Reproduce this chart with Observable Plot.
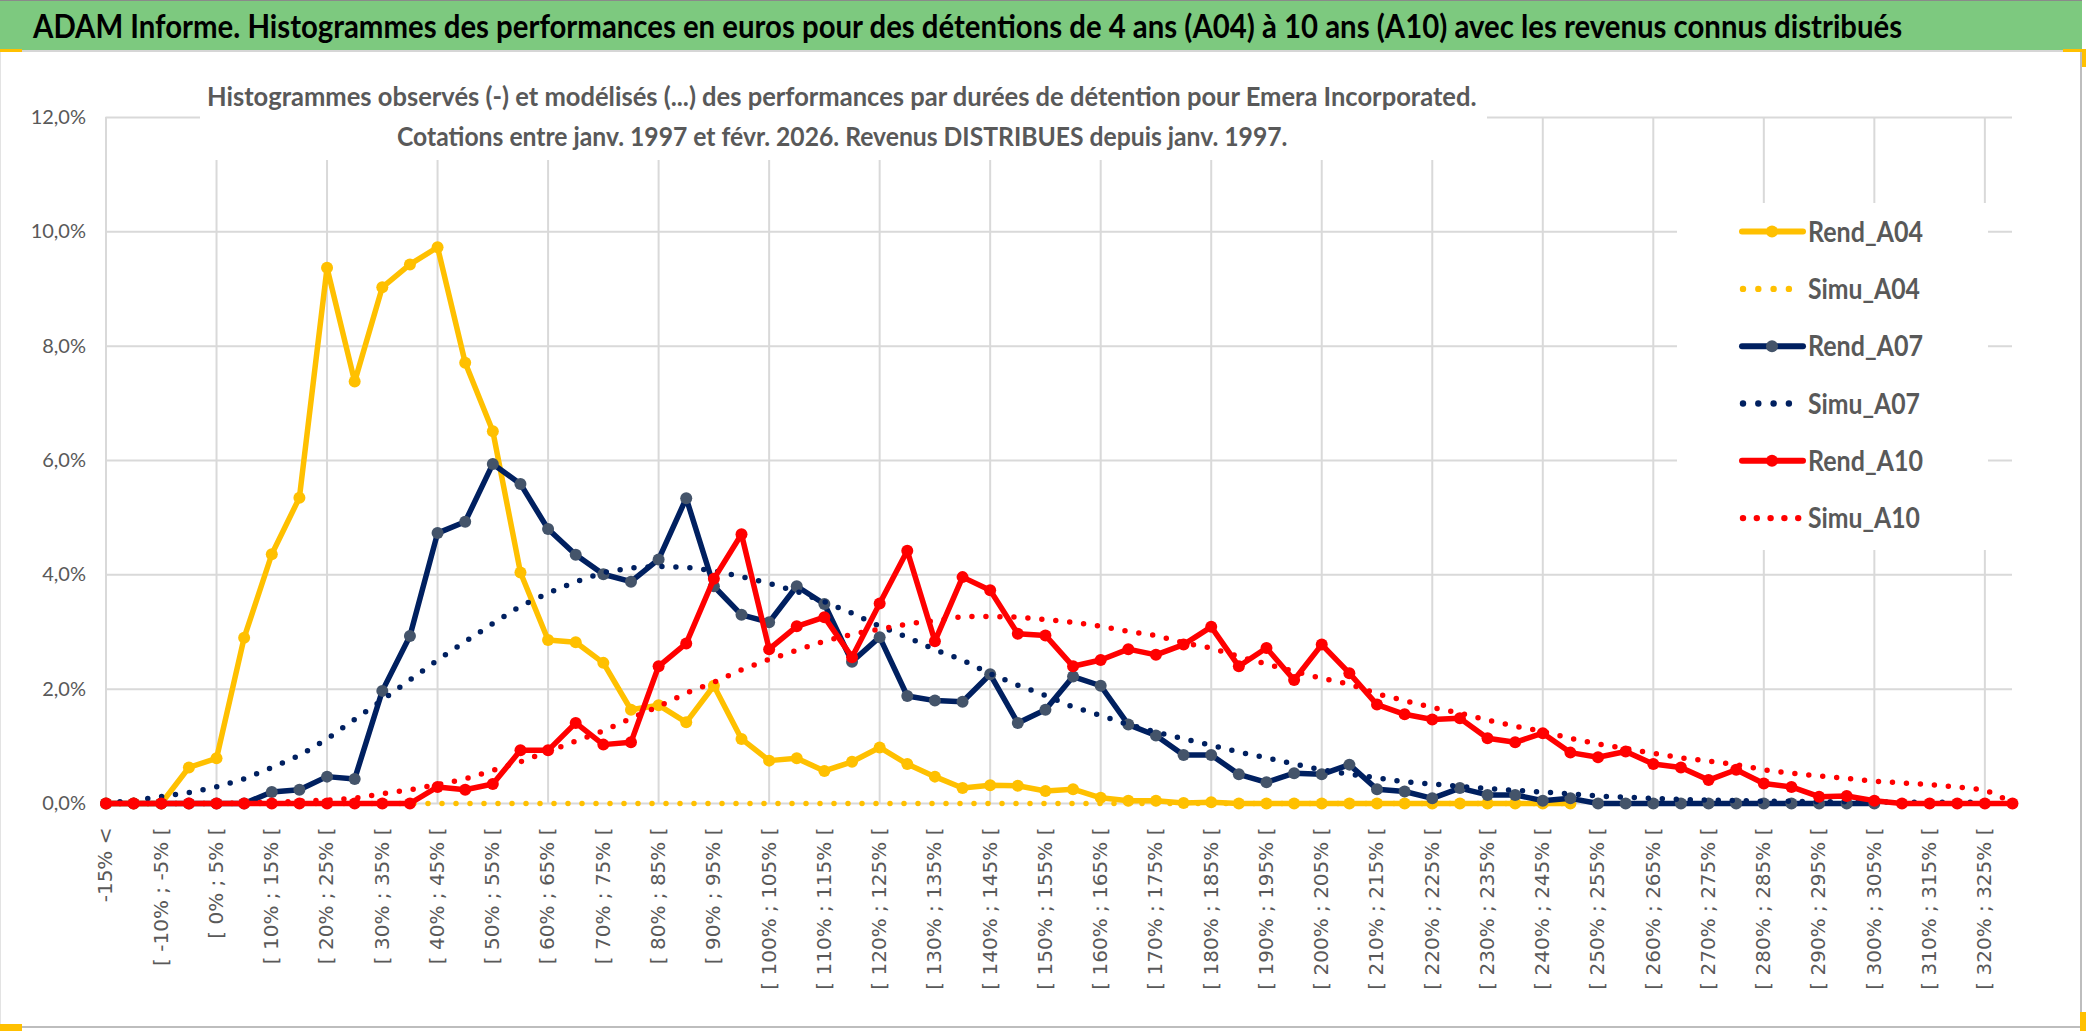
<!DOCTYPE html>
<html><head><meta charset="utf-8">
<script src="https://cdn.jsdelivr.net/npm/d3@7"></script>
<script src="https://cdn.jsdelivr.net/npm/@observablehq/plot@0.6"></script>
<style>
html,body{margin:0;padding:0;background:#fff;}
#wrap{position:relative;width:2086px;height:1031px;overflow:hidden;background:#fff;}
#titlebar{position:absolute;left:0;top:0;width:2082px;height:49px;background:#7dc97f;border-top:1px solid #8a8a8a;}
#chart{position:absolute;left:0;top:52px;}
#overlay{position:absolute;left:0;top:0;pointer-events:none;}
</style></head><body>
<div id="wrap">
  <div id="titlebar"></div>
  <div id="chart"></div>
  <svg id="overlay" width="2086" height="1031"></svg>
</div>
<script>
const titleText = "ADAM Informe. Histogrammes des performances en euros pour des détentions de 4 ans (A04) à 10 ans (A10) avec les revenus connus distribués";
const subtitleLines = [
  "Histogrammes observés (-) et modélisés (...) des performances par durées de détention pour Emera Incorporated.",
  "Cotations entre janv. 1997 et févr. 2026. Revenus DISTRIBUES depuis janv. 1997."
];

const categories = [
  "-15% <",
  "[ -15% ; -10% [","[ -10% ; -5% [","[ -5% ; 0% [","[ 0% ; 5% [","[ 5% ; 10% [",
  "[ 10% ; 15% [","[ 15% ; 20% [","[ 20% ; 25% [","[ 25% ; 30% [","[ 30% ; 35% [",
  "[ 35% ; 40% [","[ 40% ; 45% [","[ 45% ; 50% [","[ 50% ; 55% [","[ 55% ; 60% [",
  "[ 60% ; 65% [","[ 65% ; 70% [","[ 70% ; 75% [","[ 75% ; 80% [","[ 80% ; 85% [",
  "[ 85% ; 90% [","[ 90% ; 95% [","[ 95% ; 100% [","[ 100% ; 105% [","[ 105% ; 110% [",
  "[ 110% ; 115% [","[ 115% ; 120% [","[ 120% ; 125% [","[ 125% ; 130% [","[ 130% ; 135% [",
  "[ 135% ; 140% [","[ 140% ; 145% [","[ 145% ; 150% [","[ 150% ; 155% [","[ 155% ; 160% [",
  "[ 160% ; 165% [","[ 165% ; 170% [","[ 170% ; 175% [","[ 175% ; 180% [","[ 180% ; 185% [",
  "[ 185% ; 190% [","[ 190% ; 195% [","[ 195% ; 200% [","[ 200% ; 205% [","[ 205% ; 210% [",
  "[ 210% ; 215% [","[ 215% ; 220% [","[ 220% ; 225% [","[ 225% ; 230% [","[ 230% ; 235% [",
  "[ 235% ; 240% [","[ 240% ; 245% [","[ 245% ; 250% [","[ 250% ; 255% [","[ 255% ; 260% [",
  "[ 260% ; 265% [","[ 265% ; 270% [","[ 270% ; 275% [","[ 275% ; 280% [","[ 280% ; 285% [",
  "[ 285% ; 290% [","[ 290% ; 295% [","[ 295% ; 300% [","[ 300% ; 305% [","[ 305% ; 310% [",
  "[ 310% ; 315% [","[ 315% ; 320% [","[ 320% ; 325% [","[ 325% ; 330% ["
];

const yTicks = [0, 2, 4, 6, 8, 10, 12];

const rendA04 = [
  0,0,0,0.63,0.79,2.90,4.36,5.35,9.37,7.38,
  9.03,9.43,9.73,7.71,6.51,4.04,2.86,2.82,2.46,1.64,
  1.72,1.42,2.06,1.13,0.75,0.79,0.57,0.73,0.98,0.69,
  0.47,0.27,0.32,0.31,0.22,0.25,0.10,0.05,0.05,0.01,
  0.02,0,0,0,0,0,0,0,0,0,
  0,0,0,0,null,null,null,null,null,null,
  null,null,null,null,null,null,null,null,null,null
];
const simuA04 = [
  0,0,0,0,0,0,0,0,0,0,
  0,0,0,0,0,0,0,0,0,0,
  0,0,0,0,0,0,0,0,0,0,
  0,0,0,0,0,0,0,0,0,0,
  0,0,0,0,0,0,0,0,0,0,
  0,0,0,0,null,null,null,null,null,null,
  null,null,null,null,null,null,null,null,null,null
];
const rendA07 = [
  0,0,0,0,0,0,0.20,0.24,0.47,0.43,
  1.97,2.93,4.73,4.93,5.94,5.59,4.80,4.35,4.01,3.88,
  4.27,5.34,3.80,3.30,3.17,3.80,3.49,2.48,2.91,1.88,
  1.80,1.78,2.26,1.41,1.64,2.22,2.06,1.38,1.19,0.85,
  0.85,0.51,0.37,0.53,0.51,0.68,0.25,0.21,0.09,0.27,
  0.15,0.15,0.05,0.09,0,0,0,0,0,0,
  0,0,0,0,0,null,null,null,null,null
];
const simuA07 = [
  0.01,0.05,0.12,0.19,0.29,0.43,0.63,0.84,1.13,1.47,
  1.81,2.16,2.51,2.83,3.15,3.45,3.68,3.88,4.04,4.12,
  4.15,4.13,4.07,3.97,3.85,3.71,3.53,3.33,3.10,2.91,
  2.69,2.51,2.27,2.07,1.89,1.69,1.54,1.38,1.25,1.13,
  1.02,0.90,0.80,0.69,0.59,0.51,0.45,0.38,0.34,0.30,
  0.26,0.23,0.20,0.17,0.13,0.11,0.09,0.07,0.06,0.05,
  0.04,0.04,0.03,0.03,0.03,0.02,0.02,0.02,0.02,null
];
const rendA10 = [
  0,0,0,0,0,0,0,0,0,0,
  0,0,0.29,0.24,0.34,0.93,0.93,1.41,1.03,1.07,
  2.40,2.80,3.93,4.71,2.70,3.10,3.26,2.56,3.50,4.42,
  2.84,3.96,3.73,2.97,2.94,2.40,2.51,2.70,2.60,2.78,
  3.09,2.40,2.72,2.16,2.78,2.28,1.73,1.56,1.47,1.49,
  1.14,1.07,1.23,0.89,0.81,0.91,0.69,0.63,0.41,0.59,
  0.35,0.29,0.12,0.13,0.05,0,0,0,0,0
];
const simuA10 = [
  0,0,0,0,0,0.01,0.02,0.04,0.06,0.09,
  0.17,0.24,0.33,0.43,0.58,0.73,0.91,1.09,1.27,1.49,
  1.70,1.93,2.12,2.34,2.52,2.68,2.84,2.96,3.05,3.14,
  3.20,3.27,3.27,3.26,3.22,3.17,3.10,3.01,2.94,2.81,
  2.72,2.57,2.44,2.31,2.19,2.09,1.92,1.80,1.68,1.58,
  1.46,1.35,1.26,1.14,1.04,0.96,0.88,0.80,0.74,0.68,
  0.59,0.53,0.48,0.44,0.39,0.36,0.33,0.29,0.24,0.02
];

const series = [
  {name: "Rend_A04", values: rendA04, color: "#FFC000", marker: "#FFC000", dotted: false},
  {name: "Simu_A04", values: simuA04, color: "#FFC000", dotted: true, dots: 4},
  {name: "Rend_A07", values: rendA07, color: "#002060", marker: "#44546A", dotted: false},
  {name: "Simu_A07", values: simuA07, color: "#002060", dotted: true, dots: 4},
  {name: "Rend_A10", values: rendA10, color: "#FF0000", marker: "#FF0000", dotted: false},
  {name: "Simu_A10", values: simuA10, color: "#FF0000", dotted: true, dots: 5}
];

const grid = "#d9d9d9";
const marks = [
  Plot.gridY({ticks: yTicks, stroke: grid, strokeOpacity: 1, strokeWidth: 2}),
  Plot.gridX({ticks: categories.filter((d, i) => i % 4 === 0), stroke: grid, strokeOpacity: 1, strokeWidth: 2}),
  Plot.axisY({ticks: yTicks, tickFormat: d => d.toFixed(1).replace(".", ",") + "%", tickSize: 0, tickPadding: 20,
    fontSize: 20, fontFamily: "Lato, sans-serif", fill: "#595959", label: null}),
  Plot.axisX({ticks: categories.filter((d, i) => i % 2 === 0), tickSize: 0, tickPadding: 24, tickRotate: -90,
    fontSize: 20, fontFamily: "'DejaVu Sans', sans-serif", fill: "#595959", label: null})
];
for (const s of series) {
  const rows = categories.map((c, i) => ({cat: c, v: s.values[i]})).filter(r => r.v != null);
  if (s.dotted) {
    marks.push(Plot.line(rows, {x: "cat", y: "v", stroke: s.color, strokeWidth: 5.5,
      strokeDasharray: "0 14", strokeLinecap: "round", strokeLinejoin: "round"}));
  } else {
    marks.push(Plot.line(rows, {x: "cat", y: "v", stroke: s.color, strokeWidth: 5.5, strokeLinejoin: "round"}));
    marks.push(Plot.dot(rows, {x: "cat", y: "v", r: 6, fill: s.marker, stroke: null}));
  }
}

const chart = Plot.plot({
  width: 2086, height: 979,
  marginLeft: 105.5, marginRight: 74, marginTop: 65, marginBottom: 228,
  x: {type: "point", domain: categories, padding: 0, round: false},
  y: {domain: [0, 12]},
  style: {background: "transparent", color: "#595959", overflow: "visible"},
  marks
});
document.getElementById("chart").appendChild(chart);

// fit a text to a given width and cap height (real text, scaled)
function fitText(sel, x, y, width, cap, capRatio) {
  sel.attr("x", 0).attr("y", 0).attr("font-size", 100);
  const w100 = sel.node().getComputedTextLength();
  const F = 100 * width / w100;
  sel.attr("font-size", F);
  const sy = cap / (capRatio * F);
  sel.attr("transform", `translate(${x},${y}) scale(1,${sy})`);
}
const LATO_CAP = 0.7165;

const ov = d3.select("#overlay");
fitText(ov.append("text").attr("font-family", "Lato, sans-serif").attr("font-weight", 700).attr("fill", "#000").text(titleText),
  33, 38, 1870, 23, LATO_CAP);

// frame lines
ov.append("rect").attr("x", 0).attr("y", 50).attr("width", 2082).attr("height", 2).attr("fill", "#d6d6d6");
ov.append("rect").attr("x", 2080).attr("y", 50).attr("width", 2).attr("height", 979).attr("fill", "#bdbdbd");
ov.append("rect").attr("x", 0).attr("y", 1026).attr("width", 2082).attr("height", 2).attr("fill", "#bdbdbd");
ov.append("rect").attr("x", 0).attr("y", 52).attr("width", 1).attr("height", 976).attr("fill", "#e3e3e3");
const gold = "#FFC000";
ov.append("rect").attr("x", 0).attr("y", 49).attr("width", 22).attr("height", 3).attr("fill", gold);
ov.append("rect").attr("x", 2063).attr("y", 49).attr("width", 23).attr("height", 3).attr("fill", gold);
ov.append("rect").attr("x", 2082).attr("y", 49).attr("width", 4).attr("height", 18).attr("fill", gold);
ov.append("rect").attr("x", 0).attr("y", 1024).attr("width", 22).attr("height", 7).attr("fill", gold);
ov.append("rect").attr("x", 2080).attr("y", 1012).attr("width", 6).attr("height", 19).attr("fill", gold);

// subtitle box
ov.append("rect").attr("x", 200).attr("y", 56).attr("width", 1287).attr("height", 104).attr("fill", "#fff");
const subPos = [{x: 207, y: 106, w: 1270}, {x: 397, y: 146, w: 891}];
subtitleLines.forEach((t, k) => {
  fitText(ov.append("text").attr("font-family", "Lato, sans-serif").attr("font-weight", 700).attr("fill", "#595959").text(t),
    subPos[k].x, subPos[k].y, subPos[k].w, 18.5, LATO_CAP);
});

// legend
ov.append("rect").attr("x", 1677).attr("y", 203).attr("width", 311).attr("height", 347).attr("fill", "#fff");
series.forEach((s, k) => {
  const cy = 231.6 + k * 57.3;
  const g = ov.append("g");
  if (s.dotted) {
    const step = s.dots === 5 ? 13.8 : 15.3;
    for (let j = 0; j < s.dots; j++) {
      g.append("circle").attr("cx", 1743 + j * step).attr("cy", cy).attr("r", 3.2).attr("fill", s.color);
    }
  } else {
    g.append("line").attr("x1", 1742).attr("x2", 1803).attr("y1", cy).attr("y2", cy)
      .attr("stroke", s.color).attr("stroke-width", 6).attr("stroke-linecap", "round");
    g.append("circle").attr("cx", 1772).attr("cy", cy).attr("r", 6).attr("fill", s.marker);
  }
  fitText(g.append("text").attr("font-family", "Lato, sans-serif").attr("font-weight", 700).attr("fill", "#595959").text(s.name),
    1808, cy + 10, s.name.startsWith("Rend") ? 115 : 112, 20, LATO_CAP);
});
</script>
</body></html>
